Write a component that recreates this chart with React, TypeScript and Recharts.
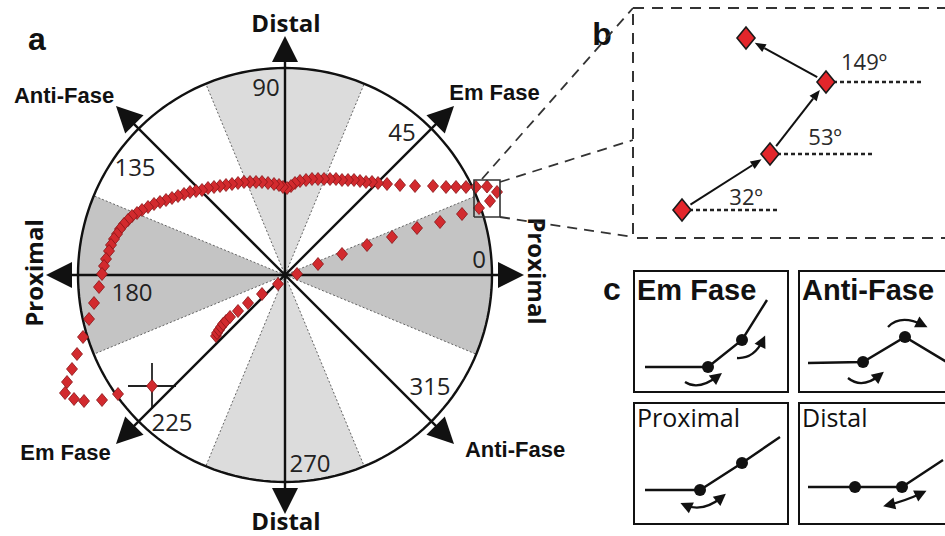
import React from 'react';
import { ScatterChart, Scatter, XAxis, YAxis, ErrorBar, ReferenceArea } from 'recharts';

const SANS = "'Liberation Sans', Arial, sans-serif";
const HUMANIST = "'Open Sans', 'Noto Sans', sans-serif";

// panel a: relative phase trajectory, px offsets from the circle centre (ring radius 207)
const outboundX = [-69, -68, -66, -64, -62, -59, -55, -47, -37, -23, -7, 12, 33, 57, 82, 107, 132, 155, 177];
const outboundY = [-61, -58, -55, -52, -49, -46, -42, -36, -28, -19, -9, 1, 11, 21, 30, 38, 47, 53, 61];
// the four steps that panel b blows up
const zoomX = [194, 205, 212, 202];
const zoomY = [67, 74, 83, 88.5];
const returnX = [191, 181, 171, 161, 148, 130, 115, 102, 93, 87, 81, 75, 69, 63, 57, 51, 45, 39, 33, 27, 21, 15,
  10, 6, 2, -2, -6, -11, -17, -23, -29, -35, -41, -47, -53, -59, -65, -71, -77, -83, -89, -95, -101, -107, -113,
  -119, -125, -131, -137, -143, -148, -153, -157, -161, -165, -168, -171, -174, -176, -179, -181, -183,
  -186, -191, -196, -202, -208, -213, -218, -220, -211, -201, -183, -167];
const returnY = [88, 88, 88, 88, 89, 89, 90, 91, 92, 93, 93, 94, 95, 95, 95, 96, 96, 96, 96, 96, 95, 94,
  92, 89, 87, 88, 90, 91, 92, 93, 93, 93, 93, 92, 91, 90, 89, 88, 87, 85, 84, 83, 81, 79, 77, 75, 73, 71, 68, 65,
  62, 59, 55, 51, 46, 41, 36, 30, 24, 16, 9, 1,
  -12, -28, -44, -62, -79, -94, -107, -118, -124, -126, -125, -119];
const meanPoint = [{ x: -133, y: -111, ex: 24, ey: 23 }];

const ringRadius = 207;
const arrowReach = 239;
const axisAngles = [0, 45, 90, 135, 180, 225, 270, 315];
const tickLabels = ['0', '45', '90', '135', '180', '225', '270', '315'];
const tickSpots = [[194, 17], [117, 144], [-19, 189], [-150, 109], [-153, -16], [-113, -146], [25, -187], [145, -110]];
const bandCentres = [0, 90, 180, 270];
const bandColors = ['#c4c4c4', '#dcdcdc', '#c4c4c4', '#dcdcdc'];
const directionNames = ['Proximal', 'Em Fase', 'Distal', 'Anti-Fase', 'Proximal', 'Em Fase', 'Distal', 'Anti-Fase'];
const directionSpots = [[252, 4, 90], [209.5, 175, 0], [1, 243, 0], [-221, 172, 0], [-252, 2, -90], [-219.5, -185, 0], [1, -255, 0], [230, -182, 0]];
const panelLetters = ['a', 'b', 'c'];
const letterSpots = [[-248, 225], [317, 230], [327, -25]];
const zoomFrame = { x1: 189, x2: 215, y1: 58, y2: 95 };
const zoomRays = [[[197, 96], [348, 267]], [[215, 93], [348, 135]], [[215, 58], [348, 38]]];

// panel b
const stepLabels = ['32º', '53º', '149º'];
const stepLabelOffsets = [[64, -14], [55, -18], [38, -21]];
const guideLength = [12, 13, 12.25];
const B_X: [number, number] = [187.875, 227.875];
const B_Y: [number, number] = [63.5, 92.25];

// panel c schematics (box-local px, y down)
const cTitles = ['Em Fase', 'Anti-Fase', 'Proximal', 'Distal'];
const cBoxes = [[633, 270], [798, 270], [633, 402], [798, 402]];
const cLimbs = [
  [{ x: 12, y: 97 }, { x: 75, y: 97, j: 1 }, { x: 109, y: 70, j: 1 }, { x: 134, y: 30 }],
  [{ x: 10, y: 93 }, { x: 65, y: 92, j: 1 }, { x: 107, y: 67, j: 1 }, { x: 152, y: 94 }],
  [{ x: 12, y: 88 }, { x: 67, y: 88, j: 1 }, { x: 109, y: 61, j: 1 }, { x: 147, y: 35 }],
  [{ x: 10, y: 85 }, { x: 57, y: 85, j: 1 }, { x: 104, y: 85, j: 1 }, { x: 145, y: 58 }],
];
const cArcs: { pts: { x: number; y: number }[]; heads: 'end' | 'both' }[][] = [
  [{ pts: [{ x: 52, y: 112 }, { x: 67, y: 115 }, { x: 85, y: 106 }], heads: 'end' },
   { pts: [{ x: 104, y: 88 }, { x: 119, y: 84 }, { x: 130, y: 70 }], heads: 'end' }],
  [{ pts: [{ x: 90, y: 57 }, { x: 105, y: 50 }, { x: 125, y: 55 }], heads: 'end' },
   { pts: [{ x: 50, y: 108 }, { x: 65, y: 113 }, { x: 82, y: 105 }], heads: 'end' }],
  [{ pts: [{ x: 52, y: 103 }, { x: 70, y: 105 }, { x: 89, y: 95 }], heads: 'both' }],
  [{ pts: [{ x: 90, y: 103 }, { x: 107, y: 98 }, { x: 124, y: 91 }], heads: 'both' }],
];

type Pt = { x: number; y: number };
const zip = (xs: number[], ys: number[]): Pt[] => xs.map((x, i) => ({ x, y: ys[i] }));
const zoomed = zip(zoomX, zoomY);
const trajectory = [...zip(outboundX, outboundY), ...zoomed, ...zip(returnX, returnY)];

const rad = (d: number) => (d * Math.PI) / 180;
const polar = (deg: number, r: number) => ({ x: r * Math.cos(rad(deg)), y: r * Math.sin(rad(deg)) });

const hidden = () => <g />;

const bandShape = (c: number) => {
  const pts: Pt[] = [{ x: 0, y: 0 }];
  for (let a = c - 22.5; a <= c + 22.5 + 1e-6; a += 1.5) pts.push(polar(a, ringRadius));
  pts.push({ x: 0, y: 0 });
  return pts;
};
const ring: Pt[] = [];
for (let a = 0; a <= 360; a += 2) ring.push(polar(a, ringRadius));

const RedDiamond = (p: any) => (
  <polygon
    points={`${p.cx},${p.cy - 6.5} ${p.cx + 5.5},${p.cy} ${p.cx},${p.cy + 6.5} ${p.cx - 5.5},${p.cy}`}
    fill="#d22a2e" stroke="#861518" strokeWidth={0.8}
  />
);
const BigDiamond = (p: any) => (
  <polygon
    points={`${p.cx},${p.cy - 11} ${p.cx + 9},${p.cy} ${p.cx},${p.cy + 11} ${p.cx - 9},${p.cy}`}
    fill="#e3262b" stroke="#1a1a1a" strokeWidth={1.6}
  />
);

const ArrowHead = (p: any) => {
  const a = rad(p.payload.angle);
  const dx = Math.cos(a), dy = -Math.sin(a);
  const L = 26, W = 13;
  const bx = p.cx - dx * L, by = p.cy - dy * L;
  return <polygon points={`${p.cx},${p.cy} ${bx - dy * W},${by + dx * W} ${bx + dy * W},${by - dx * W}`} fill="#111" />;
};

const TickText = (p: any) => (
  <text x={p.cx} y={p.cy} textAnchor="middle" dominantBaseline="central" fontFamily={HUMANIST} fontSize={24} fill="#222">
    {p.payload.label}
  </text>
);

const DirectionText = (p: any) => {
  const d = p.payload;
  const humanist = d.text === 'Distal' || d.text === 'Proximal';
  return (
    <text
      x={p.cx} y={p.cy} textAnchor="middle"
      dominantBaseline={d.rot ? 'central' : 'alphabetic'}
      transform={d.rot ? `rotate(${d.rot} ${p.cx} ${p.cy})` : undefined}
      fontFamily={humanist ? HUMANIST : SANS} fontWeight={700} fontSize={humanist ? 24 : 22} fill="#111"
    >
      {d.text}
    </text>
  );
};

const LetterText = (p: any) => (
  <text x={p.cx} y={p.cy} textAnchor="middle" fontFamily={SANS} fontWeight={700} fontSize={32} fill="#111">
    {p.payload.text}
  </text>
);

const StepText = (p: any) => (
  <text x={p.cx + p.payload.dx} y={p.cy + p.payload.dy} textAnchor="middle" dominantBaseline="central"
    fontFamily={HUMANIST} fontSize={22} fill="#2a2a2a">
    {p.payload.text}
  </text>
);

const arrowChain = (props: any) => {
  const pts = props.points as Pt[];
  const parts: React.ReactElement[] = [];
  for (let i = 0; i < pts.length - 1; i++) {
    const p = pts[i], q = pts[i + 1];
    const dx = q.x - p.x, dy = q.y - p.y;
    const l = Math.hypot(dx, dy) || 1;
    const ux = dx / l, uy = dy / l;
    const sx = p.x + ux * 10, sy = p.y + uy * 10;
    const tx = q.x - ux * 10, ty = q.y - uy * 10;
    const bx = tx - ux * 11, by = ty - uy * 11;
    parts.push(<line key={`l${i}`} x1={sx} y1={sy} x2={bx} y2={by} stroke="#111" strokeWidth={2} />);
    parts.push(
      <polygon key={`h${i}`} points={`${tx},${ty} ${bx - uy * 4.5},${by + ux * 4.5} ${bx + uy * 4.5},${by - ux * 4.5}`} fill="#111" />
    );
  }
  return <g>{parts}</g>;
};

const curvedArrow = (heads: 'end' | 'both') => (props: any) => {
  const [p0, p1, p2] = props.points as Pt[];
  const c = { x: 2 * p1.x - (p0.x + p2.x) / 2, y: 2 * p1.y - (p0.y + p2.y) / 2 };
  const head = (tip: Pt, from: Pt, k: string) => {
    const dx = tip.x - from.x, dy = tip.y - from.y;
    const l = Math.hypot(dx, dy) || 1;
    const ux = dx / l, uy = dy / l;
    const ex = tip.x + ux * 5, ey = tip.y + uy * 5;
    const bx = ex - ux * 12, by = ey - uy * 12;
    return <polygon key={k} points={`${ex},${ey} ${bx - uy * 6},${by + ux * 6} ${bx + uy * 6},${by - ux * 6}`} fill="#111" />;
  };
  return (
    <g>
      <path d={`M${p0.x},${p0.y} Q${c.x},${c.y} ${p2.x},${p2.y}`} fill="none" stroke="#111" strokeWidth={2.3} />
      {head(p2, c, 'e')}
      {heads === 'both' && head(p0, c, 's')}
    </g>
  );
};

const JointDot = (p: any) => (p.payload.j ? <circle cx={p.cx} cy={p.cy} r={6} fill="#111" /> : <g />);

const PAD = 12;

function Schematic({ index }: { index: number }) {
  const [left, top] = cBoxes[index];
  const title = cTitles[index];
  const humanist = index >= 2;
  const TitleText = (p: any) => (
    <text x={p.cx} y={p.cy} fontFamily={humanist ? HUMANIST : SANS} fontWeight={humanist ? 500 : 700}
      fontSize={humanist ? 25 : 29} fill="#111">
      {p.payload.text}
    </text>
  );
  return (
    <div style={{ position: 'absolute', left, top, width: 156, height: 123 }}>
      <div style={{ position: 'absolute', left: 0, top: -PAD }}>
        <ScatterChart width={156} height={123 + PAD} margin={{ top: PAD, right: 0, bottom: 0, left: 0 }}>
          <XAxis type="number" dataKey="x" domain={[0, 156]} hide />
          <YAxis type="number" dataKey="y" domain={[0, 123]} reversed hide />
          <Scatter data={cLimbs[index]} shape={JointDot} line={{ stroke: '#111', strokeWidth: 2.4 }} isAnimationActive={false} />
          {cArcs[index].map((a, i) => (
            <Scatter key={i} data={a.pts} shape={hidden} line={curvedArrow(a.heads)} isAnimationActive={false} />
          ))}
          <Scatter data={[{ x: humanist ? 4 : 4, y: humanist ? 25 : 30, text: title }]} shape={TitleText} isAnimationActive={false} />
        </ScatterChart>
      </div>
      <div style={{ position: 'absolute', left: 0, top: 0, width: 156, height: 123, border: '2.5px solid #111', boxSizing: 'border-box' }} />
    </div>
  );
}

export default function App() {
  const tickData = tickLabels.map((label, i) => ({ x: tickSpots[i][0], y: tickSpots[i][1], label }));
  const dirData = directionNames.map((text, i) => ({ x: directionSpots[i][0], y: directionSpots[i][1], rot: directionSpots[i][2], text }));
  const tips = axisAngles.map((angle) => ({ ...polar(angle, arrowReach), angle }));
  const letters = panelLetters.map((text, i) => ({ x: letterSpots[i][0], y: letterSpots[i][1], text }));
  const frame = [
    { x: zoomFrame.x1, y: zoomFrame.y1 }, { x: zoomFrame.x2, y: zoomFrame.y1 },
    { x: zoomFrame.x2, y: zoomFrame.y2 }, { x: zoomFrame.x1, y: zoomFrame.y2 }, { x: zoomFrame.x1, y: zoomFrame.y1 },
  ];
  const stepData = stepLabels.map((text, i) => ({ ...zoomed[i], text, dx: stepLabelOffsets[i][0], dy: stepLabelOffsets[i][1] }));

  return (
    <div style={{ position: 'absolute', left: 0, top: 0, width: 945, height: 536, overflow: 'hidden', background: '#fff' }}>
      <div style={{ position: 'absolute', left: 0, top: 0 }}>
        <ScatterChart width={945} height={536} margin={{ top: 0, right: 0, bottom: 0, left: 0 }}>
          <XAxis type="number" dataKey="x" domain={[-285, 660]} hide allowDataOverflow />
          <YAxis type="number" dataKey="y" domain={[-261, 275]} hide allowDataOverflow />
          {bandCentres.map((c, i) => (
            <Scatter key={`band${c}`} data={bandShape(c)} shape={hidden} isAnimationActive={false}
              line={{ fill: bandColors[i], stroke: '#555', strokeWidth: 0.9, strokeDasharray: '2 2' }} />
          ))}
          <Scatter data={ring} shape={hidden} line={{ stroke: '#111', strokeWidth: 2.4, fill: 'none' }} isAnimationActive={false} />
          {[0, 45, 90, 135].map((a) => (
            <Scatter key={`axis${a}`} data={[polar(a + 180, arrowReach - 10), polar(a, arrowReach - 10)]} shape={hidden}
              line={{ stroke: '#111', strokeWidth: 2.4 }} isAnimationActive={false} />
          ))}
          <Scatter data={tips} shape={ArrowHead} isAnimationActive={false} />
          <Scatter data={tickData} shape={TickText} isAnimationActive={false} />
          <Scatter data={dirData} shape={DirectionText} isAnimationActive={false} />
          <Scatter data={letters} shape={LetterText} isAnimationActive={false} />
          {zoomRays.map((r, i) => (
            <Scatter key={`ray${i}`} data={[{ x: r[0][0], y: r[0][1] }, { x: r[1][0], y: r[1][1] }]} shape={hidden}
              line={{ stroke: '#333', strokeWidth: 1.8, strokeDasharray: '10 7' }} isAnimationActive={false} />
          ))}
          <Scatter data={trajectory} shape={RedDiamond} isAnimationActive={false} />
          <Scatter data={frame} shape={hidden} line={{ stroke: '#333', strokeWidth: 1.6, fill: 'none' }} isAnimationActive={false} />
          <Scatter data={meanPoint} shape={RedDiamond} isAnimationActive={false}>
            <ErrorBar dataKey="ex" direction="x" width={0} stroke="#222" strokeWidth={1.8} isAnimationActive={false} />
            <ErrorBar dataKey="ey" direction="y" width={0} stroke="#222" strokeWidth={1.8} isAnimationActive={false} />
          </Scatter>
        </ScatterChart>
      </div>

      <div style={{ position: 'absolute', left: 623, top: 0 }}>
        <ScatterChart width={340} height={248} margin={{ top: 8, right: 10, bottom: 10, left: 10 }}>
          <XAxis type="number" dataKey="x" domain={B_X} hide allowDataOverflow />
          <YAxis type="number" dataKey="y" domain={B_Y} hide allowDataOverflow />
          <ReferenceArea x1={B_X[0]} x2={B_X[1]} y1={B_Y[0]} y2={B_Y[1]} fill="#fff" fillOpacity={1}
            stroke="#333" strokeWidth={2} strokeDasharray="11 8" />
          {guideLength.map((len, i) => (
            <Scatter key={`guide${i}`} data={[zoomed[i], { x: zoomed[i].x + len, y: zoomed[i].y }]} shape={hidden}
              line={{ stroke: '#222', strokeWidth: 2.6, strokeDasharray: '4 3' }} isAnimationActive={false} />
          ))}
          <Scatter data={zoomed} shape={BigDiamond} line={arrowChain} isAnimationActive={false} />
          <Scatter data={stepData} shape={StepText} isAnimationActive={false} />
        </ScatterChart>
      </div>

      {cTitles.map((t, i) => (
        <Schematic key={t} index={i} />
      ))}
    </div>
  );
}
